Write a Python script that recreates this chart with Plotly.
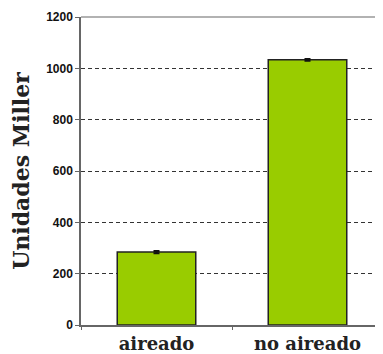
import plotly.graph_objects as go

categories = ["aireado", "no aireado"]
miller_units = [284, 1033]
miller_err = [4, 3]
y_ticks = [0, 200, 400, 600, 800, 1000, 1200]

fig = go.Figure(go.Bar(
    x=categories,
    y=miller_units,
    width=0.52,
    marker=dict(color="#99cc00", line=dict(color="#222222", width=1.5)),
    error_y=dict(type="data", array=miller_err, color="#111111", thickness=2, width=3),
))

# the page adds an 8px body margin, so the figure is sized to the visible area
fig.update_layout(
    width=375, height=346,
    margin=dict(l=73, r=0, t=9, b=29),
    plot_bgcolor="white", paper_bgcolor="white",
    showlegend=False,
    shapes=[dict(type="line", xref="paper", yref="paper", x0=0, x1=1, y0=1, y1=1,
                 line=dict(color="#999999", width=1.5))],
)

fig.update_yaxes(
    range=[0, 1200], tickvals=y_ticks, automargin=False,
    showgrid=True, gridcolor="#333333", griddash="4px,3px", gridwidth=1,
    showline=True, linecolor="#666666", linewidth=1.5,
    ticks="outside", ticklen=4, tickcolor="#666666",
    tickfont=dict(family="Liberation Sans", size=12, color="#111111", weight="bold"),
    zeroline=False,
    title=dict(text="Unidades Miller", standoff=15,
               font=dict(family="DejaVu Serif", size=22, color="#222222", weight="bold")),
)

fig.update_xaxes(
    automargin=False,
    showline=True, linecolor="#666666", linewidth=1.5,
    ticks="outside", ticklen=3, tickcolor="#666666", tickson="boundaries",
    ticklabelstandoff=2,
    tickfont=dict(family="DejaVu Serif", size=18, color="#222222", weight="bold"),
)

fig.write_html("out.html")
